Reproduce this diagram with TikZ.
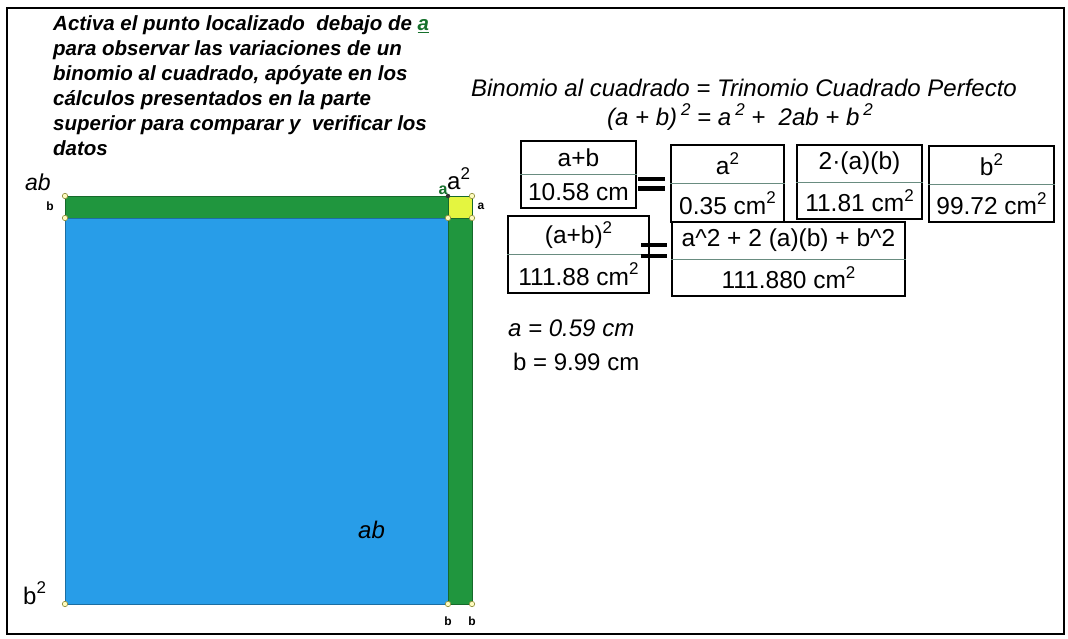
\documentclass[tikz,border=0pt]{standalone}
\usepackage{fontspec}
\setmainfont{Liberation Sans}
\usetikzlibrary{calc}
\definecolor{sqgreen}{RGB}{32,150,62}
\definecolor{sqblue}{RGB}{40,157,232}
\definecolor{sqyellow}{RGB}{228,245,64}
\definecolor{lblgreen}{RGB}{22,112,44}
\definecolor{divgray}{RGB}{105,140,128}
\definecolor{ptcol}{RGB}{150,150,70}
\newcommand{\supx}[1]{\raisebox{0.42em}{\fontsize{17}{17}\selectfont #1}}
\begin{document}
\begin{tikzpicture}[x=1pt,y=-1pt,
  ltext/.style={inner sep=0pt, anchor=base west, font=\fontsize{20.5}{25}\selectfont\bfseries\itshape},
  lbl/.style={inner sep=0pt, font=\fontsize{24}{28}\selectfont},
  ilbl/.style={inner sep=0pt, font=\fontsize{24}{28}\selectfont\itshape},
  small/.style={inner sep=0pt, font=\fontsize{12}{14}\selectfont\bfseries},
  vbox/.style={draw, line width=1.4pt, rectangle, inner sep=0pt},
  divline/.style={draw=divgray, line width=0.8pt},
  btext/.style={inner sep=0pt, font=\fontsize{24.5}{28}\selectfont},
  eqbar/.style={line width=4.8pt},
  pt/.style={fill=yellow!25, draw=ptcol, line width=0.7pt}]
\useasboundingbox (0,0) rectangle (1068,639);
\fill[white] (0,0) rectangle (1068,639);
\draw[line width=2pt] (7,8) rectangle (1064,634);

% instructions
\node[ltext] (t1) at (53,31) {Activa el punto localizado \ debajo de \textcolor{lblgreen}{\underline{a}}};
\node[ltext] (t2) at (53,56) {para observar las variaciones de un};
\node[ltext] (t3) at (53,81) {binomio al cuadrado, apóyate en los};
\node[ltext] (t4) at (53,106) {cálculos presentados en la parte};
\node[ltext] (t5) at (53,131) {superior para comparar y \ verificar los};
\node[ltext] (t6) at (53,156) {datos};

% squares
\filldraw[fill=sqgreen, draw=sqgreen!70!black, line width=0.6pt] (65,196) rectangle (448,218);
\filldraw[fill=sqyellow, draw=sqgreen!70!black, line width=0.6pt] (448,196) rectangle (472,218);
\filldraw[fill=sqblue, draw=sqblue!70!black, line width=0.6pt] (65,218) rectangle (448,604);
\filldraw[fill=sqgreen, draw=sqgreen!70!black, line width=0.6pt] (448,218) rectangle (472,604);
\foreach \p in {(65,196),(65,218),(472,196),(448,218),(472,218),(65,604),(448,604),(472,604)}
  \filldraw[pt] \p circle (2.7);
\fill[black!80] (448,196) circle (2.2);

% labels around squares
\node[inner sep=0pt, anchor=base west, font=\fontsize{23}{26}\selectfont\itshape] (lab1) at (25,191) {ab};
\node[small] (lb1) at (50,206) {b};
\node[lbl, anchor=base west] (la2) at (447,190) {a\supx{2}};
\node[inner sep=0pt, font=\fontsize{16}{18}\selectfont\bfseries, text=lblgreen] (lga) at (443,190) {a};
\node[small] (la1) at (481,206) {a};
\node[small] (lbb1) at (448,621) {b};
\node[small] (lbb2) at (472,621) {b};
\node[lbl, anchor=base west] (lb2) at (23,604) {b\supx{2}};
\node[ilbl, anchor=base west] (lab2) at (358,538) {ab};

% title and formula
\node[inner sep=0pt, anchor=base, font=\fontsize{24}{28}\selectfont\itshape] (title) at (744,97) {Binomio al cuadrado = Trinomio Cuadrado Perfecto};
\node[inner sep=0pt, anchor=base, font=\fontsize{24}{28}\selectfont\itshape] (form) at (740,126) {(a + b)\,\supx{2} = a\,\supx{2} + \ 2ab + b\,\supx{2}};

% value boxes
\node[vbox, minimum width=115pt, minimum height=67pt] (b1) at (578.5,174.5) {};
\node[vbox, minimum width=113pt, minimum height=77pt] (b2) at (727.5,183.5) {};
\node[vbox, minimum width=125pt, minimum height=74pt] (b3) at (859.5,182) {};
\node[vbox, minimum width=125pt, minimum height=76pt] (b4) at (991.5,184) {};
\node[vbox, minimum width=141pt, minimum height=77pt] (b5) at (578.5,254.5) {};
\node[vbox, minimum width=233pt, minimum height=74pt] (b6) at (788.5,259) {};
\foreach \b in {b1,b2,b3,b4,b5,b6}
  \draw[divline] (\b.west) -- (\b.east);

\node[btext] (b1t) at ($(b1.center)!0.5!(b1.north)$) {a+b};
\node[btext] (b1v) at ($(b1.center)!0.5!(b1.south)$) {10.58 cm};
\node[btext] (b2t) at ($(b2.center)!0.5!(b2.north)$) {a\supx{2}};
\node[btext] (b2v) at ($(b2.center)!0.5!(b2.south)$) {0.35 cm\supx{2}};
\node[btext] (b3t) at ($(b3.center)!0.5!(b3.north)$) {2·(a)(b)};
\node[btext] (b3v) at ($(b3.center)!0.5!(b3.south)$) {11.81 cm\supx{2}};
\node[btext] (b4t) at ($(b4.center)!0.5!(b4.north)$) {b\supx{2}};
\node[btext] (b4v) at ($(b4.center)!0.5!(b4.south)$) {99.72 cm\supx{2}};
\node[btext] (b5t) at ($(b5.center)!0.5!(b5.north)$) {(a+b)\supx{2}};
\node[btext] (b5v) at ($(b5.center)!0.5!(b5.south)$) {111.88 cm\supx{2}};
\node[btext] (b6t) at ($(b6.center)!0.5!(b6.north)$) {a\char`\^2 + 2 (a)(b) + b\char`\^2};
\node[btext] (b6v) at ($(b6.center)!0.5!(b6.south)$) {111.880 cm\supx{2}};

% equals signs
\draw[eqbar] (638,179) -- (665,179) (638,188.5) -- (665,188.5);
\draw[eqbar] (641,245) -- (667,245) (641,256) -- (667,256);

% values
\node[ilbl, anchor=base west] (va) at (508,336) {a = 0.59 cm};
\node[lbl, anchor=base west] (vb) at (513,370) {b = 9.99 cm};
\end{tikzpicture}
\end{document}
